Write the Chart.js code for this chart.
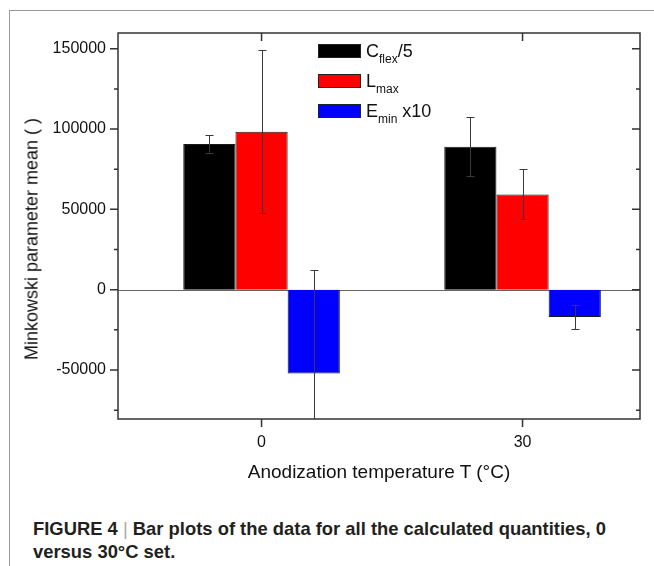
<!DOCTYPE html>
<html>
<head>
<meta charset="utf-8">
<script src="https://cdn.jsdelivr.net/npm/chart.js@4"></script>
<style>
html, body { margin: 0; padding: 0; background: #fff; }
body { width: 654px; height: 566px; position: relative; overflow: hidden;
       font-family: Arial, "Liberation Sans", Helvetica, sans-serif; color: #111; }
#frame { position: absolute; left: 9px; top: 10px; width: 660px; height: 600px;
         border-left: 1px solid #999; border-top: 1px solid #999; }
#chart { position: absolute; left: 0; top: 0; }
.leg { position: absolute; left: 318px; height: 14px; font-size: 18px; line-height: 14px; white-space: nowrap; }
.sw { display: inline-block; width: 41px; height: 12px; border: 1px solid #222; vertical-align: top; margin-right: 5px; }
.leg sub { font-size: 12px; vertical-align: -6px; line-height: 0; }
#xtitle { position: absolute; left: 118px; width: 522px; top: 461px; line-height: 22px;
          text-align: center; font-size: 19px; }
#ytitle { position: absolute; left: 32px; top: 239px; font-size: 18px; white-space: nowrap;
          transform: translate(-50%, -50%) rotate(-90deg); }
#caption { position: absolute; left: 33px; top: 517px; font-size: 18.4px; line-height: 23px;
           font-weight: bold; color: #231f20; white-space: nowrap; }
#caption .bar { font-weight: normal; color: #aaa; }
</style>
</head>
<body>
<div id="frame"></div>
<canvas id="chart" width="654" height="490"></canvas>

<div class="leg" style="top:44px"><span class="sw" style="background:#000"></span>C<sub>flex</sub>/5</div>
<div class="leg" style="top:74px"><span class="sw" style="background:#ff0000"></span>L<sub>max</sub></div>
<div class="leg" style="top:104px"><span class="sw" style="background:#0000ff"></span>E<sub>min</sub> x10</div>

<div id="xtitle">Anodization temperature T (°C)</div>
<div id="ytitle">Minkowski parameter mean ( )</div>
<div id="caption">FIGURE 4 <span class="bar">|</span> Bar plots of the data for all the calculated quantities, 0<br>versus 30°C set.</div>

<script>
'use strict';

// temperatures (°C)
const temps = [0, 30];

// series values
const cflex = [90700, 89000];
const lmax = [98300, 59300];
const emin = [-52200, -17000];

// symmetric error bars
const cflexErr = [5400, 18300];
const lmaxErr = [50800, 15600];
const eminErr = [64200, 7700];

const yMajor = [-50000, 0, 50000, 100000, 150000];
const yMinor = [-75000, -25000, 25000, 75000, 125000];
const xTicks = [0, 30];

const errors = [cflexErr, lmaxErr, eminErr];

function points(values) {
    return temps.map((t, i) => ({ x: t, y: values[i] }));
}

const axesPlugin = {
    id: 'axesPlugin',
    beforeDatasetsDraw(chart) {
        const ctx = chart.ctx;
        const area = chart.chartArea;
        const y0 = Math.round(chart.scales.y.getPixelForValue(0)) + 0.5;
        ctx.save();
        ctx.strokeStyle = '#666';
        ctx.lineWidth = 1;
        ctx.beginPath();
        ctx.moveTo(area.left, y0);
        ctx.lineTo(area.right, y0);
        ctx.stroke();
        ctx.restore();
    },
    afterDatasetsDraw(chart) {
        const ctx = chart.ctx;
        const area = chart.chartArea;
        const yScale = chart.scales.y;
        const xScale = chart.scales.x;

        // error bars
        ctx.save();
        ctx.beginPath();
        ctx.rect(area.left, area.top, area.right - area.left, area.bottom - area.top);
        ctx.clip();
        ctx.strokeStyle = '#3a3a3a';
        ctx.lineWidth = 1;
        chart.data.datasets.forEach((ds, d) => {
            const meta = chart.getDatasetMeta(d);
            meta.data.forEach((bar, i) => {
                const v = ds.data[i].y;
                const e = errors[d][i];
                const x = Math.round(bar.x) + 0.5;
                const yt = yScale.getPixelForValue(v + e);
                const yb = yScale.getPixelForValue(v - e);
                ctx.beginPath();
                ctx.moveTo(x, yt);
                ctx.lineTo(x, yb);
                ctx.moveTo(x - 4, Math.round(yt) + 0.5);
                ctx.lineTo(x + 4, Math.round(yt) + 0.5);
                ctx.moveTo(x - 4, Math.round(yb) + 0.5);
                ctx.lineTo(x + 4, Math.round(yb) + 0.5);
                ctx.stroke();
            });
        });
        ctx.restore();

        // frame and ticks
        ctx.save();
        ctx.strokeStyle = '#333';
        ctx.lineWidth = 1.5;
        ctx.strokeRect(area.left, area.top, area.right - area.left, area.bottom - area.top);
        ctx.beginPath();
        yMajor.forEach(v => {
            const y = yScale.getPixelForValue(v);
            ctx.moveTo(area.left - 8, y); ctx.lineTo(area.left, y);
            ctx.moveTo(area.right - 8, y); ctx.lineTo(area.right, y);
        });
        yMinor.forEach(v => {
            const y = yScale.getPixelForValue(v);
            ctx.moveTo(area.left - 4, y); ctx.lineTo(area.left, y);
            ctx.moveTo(area.right - 4, y); ctx.lineTo(area.right, y);
        });
        xTicks.forEach(v => {
            const x = xScale.getPixelForValue(v);
            ctx.moveTo(x, area.bottom); ctx.lineTo(x, area.bottom + 8);
            ctx.moveTo(x, area.top); ctx.lineTo(x, area.top + 8);
        });
        ctx.stroke();
        ctx.restore();
    }
};

const ctx = document.getElementById('chart').getContext('2d');

new Chart(ctx, {
    type: 'bar',
    data: {
        datasets: [
            { label: 'Cflex/5', data: points(cflex), backgroundColor: '#000000' },
            { label: 'Lmax', data: points(lmax), backgroundColor: '#ff0000' },
            { label: 'Emin x10', data: points(emin), backgroundColor: '#0000ff' }
        ]
    },
    options: {
        responsive: false,
        animation: false,
        datasets: {
            bar: {
                borderColor: '#1a1a1a',
                borderWidth: 1,
                categoryPercentage: 0.6,
                barPercentage: 1
            }
        },
        layout: { padding: { top: 33, right: 14, left: 0, bottom: 0 } },
        plugins: {
            legend: { display: false },
            tooltip: { enabled: false }
        },
        scales: {
            x: {
                type: 'linear',
                offset: false,
                min: -16.5,
                max: 43.5,
                grid: { display: false, drawTicks: false, offset: false },
                border: { display: false },
                afterBuildTicks: scale => { scale.ticks = xTicks.map(v => ({ value: v })); },
                afterFit: scale => { scale.height = 71; },
                ticks: {
                    padding: 14,
                    color: '#111',
                    font: { family: 'Arial, "Liberation Sans", sans-serif', size: 16 }
                }
            },
            y: {
                min: -80500,
                max: 159800,
                grid: { display: false, drawTicks: false },
                border: { display: false },
                afterBuildTicks: scale => { scale.ticks = yMajor.map(v => ({ value: v })); },
                afterFit: scale => { scale.width = 118; },
                ticks: {
                    padding: 12,
                    color: '#111',
                    font: { family: 'Arial, "Liberation Sans", sans-serif', size: 16 },
                    callback: v => String(v)
                }
            }
        }
    },
    plugins: [axesPlugin]
});
</script>
</body>
</html>
